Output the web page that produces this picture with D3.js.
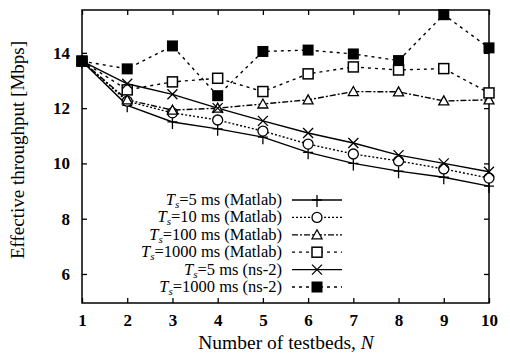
<!DOCTYPE html>
<html>
<head>
<meta charset="utf-8">
<script src="https://cdn.jsdelivr.net/npm/d3@7"></script>
<style>
  body { margin: 0; background: #fff; }
</style>
</head>
<body>
<svg id="main" width="510" height="354" font-family="'Liberation Serif', 'Times New Roman', 'DejaVu Serif', serif"></svg>
<script>
// values
const testbeds = [1, 2, 3, 4, 5, 6, 7, 8, 9, 10];
const matlab5    = [13.7, 12.1, 11.5, 11.25, 10.95, 10.4, 10.0, 9.72, 9.5, 9.18];
const matlab10   = [13.7, 12.25, 11.83, 11.57, 11.17, 10.7, 10.34, 10.09, 9.8, 9.47];
const matlab100  = [13.7, 12.3, 11.93, 12.0, 12.15, 12.3, 12.6, 12.59, 12.26, 12.3];
const matlab1000 = [13.7, 12.66, 12.95, 13.08, 12.6, 13.24, 13.49, 13.38, 13.43, 12.55];
const ns5        = [13.7, 12.88, 12.5, 12.0, 11.54, 11.1, 10.74, 10.3, 10.0, 9.7];
const ns1000     = [13.7, 13.42, 14.25, 12.45, 14.05, 14.1, 13.96, 13.72, 15.38, 14.18];

const yTicks = [6, 8, 10, 12, 14];

const series = [
  { ms: "5",    tool: "Matlab", values: matlab5,    dash: null,      marker: "plus" },
  { ms: "10",   tool: "Matlab", values: matlab10,   dash: "2,2",     marker: "circle" },
  { ms: "100",  tool: "Matlab", values: matlab100,  dash: "6,2,2,2", marker: "triangle" },
  { ms: "1000", tool: "Matlab", values: matlab1000, dash: "3,4",     marker: "square" },
  { ms: "5",    tool: "ns-2",   values: ns5,        dash: null,      marker: "cross" },
  { ms: "1000", tool: "ns-2",   values: ns1000,     dash: "3,4",     marker: "filled" },
];

const FONT = "'Liberation Serif', 'Times New Roman', 'DejaVu Serif', serif";
const svg = d3.select("#main");
const L = 82, R = 489, T = 10, B = 303;

const x = d3.scaleLinear().domain([1, 10]).range([L, R]);
const y = d3.scaleLinear().domain([4.95, 15.55]).range([B, T]);

// frame
svg.append("rect")
  .attr("x", L).attr("y", T).attr("width", R - L).attr("height", B - T)
  .attr("fill", "none").attr("stroke", "#000").attr("stroke-width", 1.5);

// axes with inward ticks, mirrored on top and right
const axStyle = g => {
  g.attr("font-family", FONT);
  g.select(".domain").remove();
  g.selectAll(".tick line").attr("stroke", "#000").attr("stroke-width", 1.3);
  g.selectAll(".tick text")
    .style("font-family", FONT)
    .style("font-size", "17px")
    .style("font-weight", "bold")
    .attr("fill", "#000");
};

svg.append("g").attr("transform", `translate(0,${B})`)
  .call(d3.axisBottom(x).tickValues(testbeds).tickSize(-5).tickPadding(11).tickFormat(d3.format("d")))
  .call(axStyle);
svg.append("g").attr("transform", `translate(0,${T})`)
  .call(d3.axisTop(x).tickValues(testbeds).tickSize(-5).tickFormat(""))
  .call(axStyle);
svg.append("g").attr("transform", `translate(${L},0)`)
  .call(d3.axisLeft(y).tickValues(yTicks).tickSize(-5).tickPadding(12))
  .call(axStyle);
svg.append("g").attr("transform", `translate(${R},0)`)
  .call(d3.axisRight(y).tickValues(yTicks).tickSize(-5).tickFormat(""))
  .call(axStyle);

// axis titles
const xt = svg.append("text")
  .attr("x", 286).attr("y", 349)
  .attr("text-anchor", "middle")
  .style("font-family", FONT).style("font-size", "19.5px");
xt.append("tspan").text("Number of testbeds, ");
xt.append("tspan").attr("font-style", "italic").text("N");

svg.append("text")
  .attr("transform", "translate(24,150) rotate(-90)")
  .attr("text-anchor", "middle")
  .style("font-family", FONT).style("font-size", "19px")
  .text("Effective throughput [Mbps]");

// markers
function drawMarker(g, type, cx, cy) {
  const s = 5;
  if (type === "plus") {
    g.append("path").attr("d", `M${cx - s},${cy}H${cx + s}M${cx},${cy - s}V${cy + s + 2}`)
      .attr("stroke", "#000").attr("stroke-width", 1.3).attr("fill", "none");
  } else if (type === "cross") {
    g.append("path").attr("d", `M${cx - s},${cy - s}L${cx + s},${cy + s}M${cx - s},${cy + s}L${cx + s},${cy - s}`)
      .attr("stroke", "#000").attr("stroke-width", 1.3).attr("fill", "none");
  } else if (type === "circle") {
    g.append("circle").attr("cx", cx).attr("cy", cy).attr("r", s)
      .attr("fill", "#fff").attr("stroke", "#000").attr("stroke-width", 1.3);
  } else if (type === "triangle") {
    g.append("path").attr("d", `M${cx},${cy - s}L${cx + s},${cy + s - 1}L${cx - s},${cy + s - 1}Z`)
      .attr("fill", "#fff").attr("stroke", "#000").attr("stroke-width", 1.3);
  } else if (type === "square") {
    g.append("rect").attr("x", cx - s).attr("y", cy - s).attr("width", 2 * s).attr("height", 2 * s)
      .attr("fill", "#fff").attr("stroke", "#000").attr("stroke-width", 1.5);
  } else if (type === "filled") {
    g.append("rect").attr("x", cx - s - 0.5).attr("y", cy - s - 0.5).attr("width", 2 * s + 1).attr("height", 2 * s + 1)
      .attr("fill", "#000");
  }
}

const line = d3.line().x((d, i) => x(testbeds[i])).y(d => y(d));

series.forEach(s => {
  svg.append("path")
    .datum(s.values)
    .attr("d", line)
    .attr("fill", "none")
    .attr("stroke", "#000")
    .attr("stroke-width", 1.4)
    .attr("stroke-dasharray", s.dash);
});
series.forEach(s => {
  const g = svg.append("g");
  s.values.forEach((v, i) => drawMarker(g, s.marker, x(testbeds[i]), y(v)));
});

// legend
const legY0 = 200, legStep = 17.4, textRight = 282, lx0 = 292, lx1 = 342;
series.forEach((s, i) => {
  const ly = legY0 + i * legStep;
  const t = svg.append("text").attr("x", textRight).attr("y", ly + 5)
    .attr("text-anchor", "end")
    .style("font-family", FONT).style("font-size", "16.5px");
  t.append("tspan").attr("font-style", "italic").text("T");
  t.append("tspan").attr("font-style", "italic").attr("dy", 3).style("font-size", "11px").text("s");
  t.append("tspan").attr("dy", -3).text(`=${s.ms} ms (${s.tool})`);
  svg.append("line").attr("x1", lx0).attr("x2", lx1).attr("y1", ly).attr("y2", ly)
    .attr("stroke", "#000").attr("stroke-width", 1.3).attr("stroke-dasharray", s.dash);
  drawMarker(svg, s.marker, (lx0 + lx1) / 2, ly);
});
</script>
</body>
</html>
